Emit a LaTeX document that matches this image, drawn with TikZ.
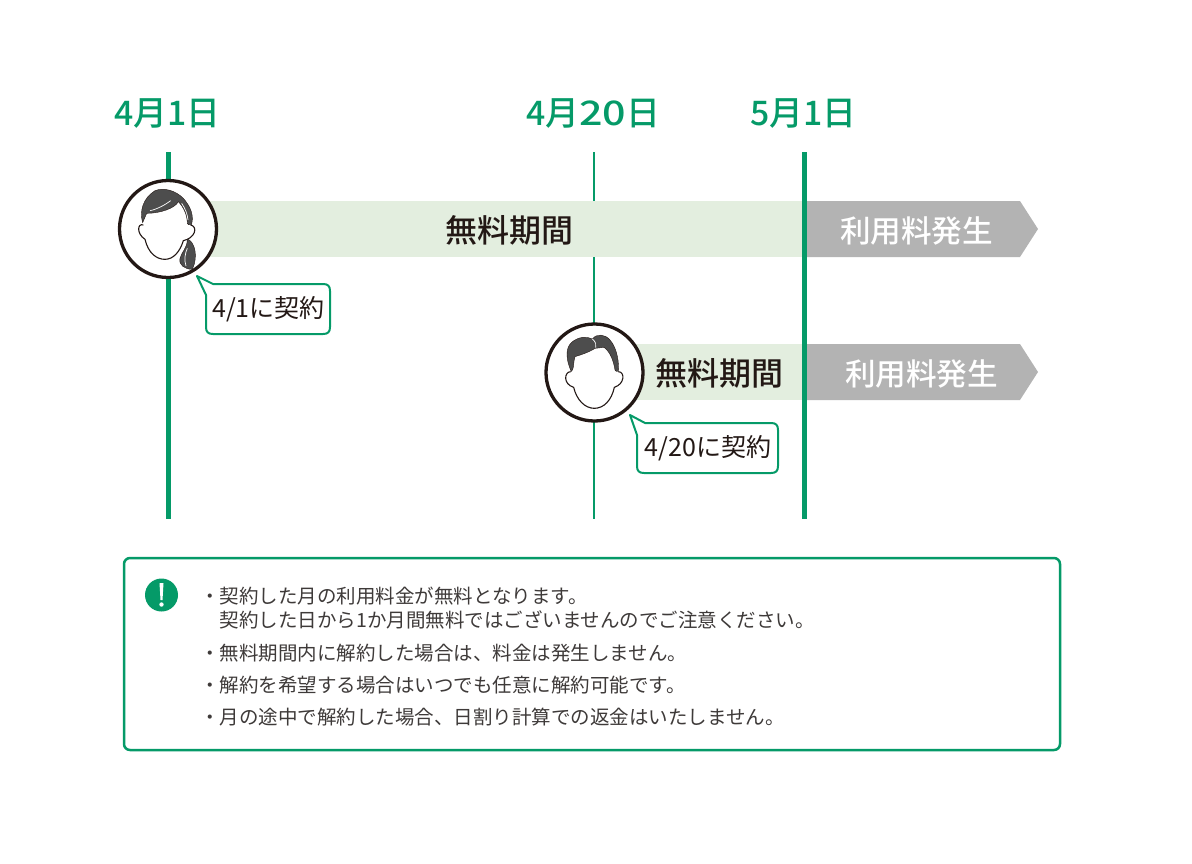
\documentclass[tikz,border=0pt]{standalone}
\usepackage{fontspec}
\setmainfont{Noto Sans CJK JP}
\newfontfamily\medfont{Noto Sans CJK JP Medium}
\usetikzlibrary{positioning}
\definecolor{grn}{HTML}{059A68}
\definecolor{lightgrn}{HTML}{E3EEDF}
\definecolor{bargray}{HTML}{B3B3B3}
\definecolor{hair}{HTML}{4D4D4D}
\definecolor{ink}{HTML}{231815}
\definecolor{noteink}{HTML}{3E3A39}
\newcommand{\pxfont}[1]{\fontsize{#1}{#1}\selectfont}
\tikzset{
	date/.style={text=grn, font=\pxfont{33.8}\medfont, inner sep=0pt},
	free/.style={text=ink, font=\pxfont{32}\medfont, inner sep=0pt},
	paid/.style={text=white, font=\pxfont{30.6}\medfont, inner sep=0pt},
	said/.style={text=ink, font=\pxfont{25}, inner sep=0pt},
	note/.style={text=noteink, font=\pxfont{19.5}, inner sep=0pt, anchor=west},
	person/.style={circle, draw=ink, line width=3.3pt, fill=white, minimum size=97pt, inner sep=0pt},
	face/.style={draw=ink, line width=1.1pt, fill=white},
	hairdo/.style={fill=hair, draw=ink, line width=.4pt},
	strand/.style={draw=white, line width=.7pt},
	bubble/.style={draw=grn, line width=2pt, fill=white, line join=round}
}
\begin{document}
\begin{tikzpicture}[x=1pt, y=-1pt]
	\useasboundingbox (0,0) rectangle (1192,863);
	\coordinate (t1) at (168,152);
	\coordinate (b1) at (168,519);
	\coordinate (t2) at (594,152);
	\coordinate (b2) at (594,519);
	\coordinate (t3) at (804,152);
	\coordinate (b3) at (804,519);

	\node (d1) [date] at (167.5,114) {4月1日};
	\node (d2) [date] at (593,114) {4月\scalebox{1.22}[1]{20}日};
	\node (d3) [date] at (803.5,114) {5月1日};

	\draw [grn, line width=2.8pt] (t2) -- (b2);
	\draw [grn, line width=5pt] (t1) -- (b1);

	\fill [lightgrn] (190,201) rectangle (804,257);
	\fill [lightgrn] (620,344) rectangle (804,400);
	\fill [bargray] (807,201) -- (1020,201) -- (1038,229) -- (1020,257) -- (807,257) -- cycle;
	\fill [bargray] (807,344) -- (1020,344) -- (1038,372) -- (1020,400) -- (807,400) -- cycle;
	\draw [grn, line width=5pt] (t3) -- (b3);

	\node (f1) [free] at (509,230) {無料期間};
	\node (f2) [free] at (719,373) {無料期間};
	\node (p1) [paid] at (916.5,231) {利用料発生};
	\node (p2) [paid] at (921.5,374) {利用料発生};

	\node (c1) [person] at (168,229) {};
	\node (c2) [person] at (594.5,372.5) {};

	% woman
	\begin{scope}[shift={(100,170)}, x=1/3*1pt, y=-1/3*1pt]
		\path [hairdo] (128,158) .. controls (118,125) and (128,85) .. (165,62) .. controls (190,52) and (225,60) .. (250,85) .. controls (272,110) and (285,140) .. (272,170) -- (262,160) .. controls (262,135) and (250,110) .. (235,95) .. controls (225,115) and (180,130) .. (140,130) -- cycle;
		\path [strand] (150,122) .. controls (170,118) and (195,105) .. (212,92);
		\path [strand] (245,100) .. controls (255,115) and (262,130) .. (264,150);
		\path [face] (130,165) .. controls (113,158) and (108,190) .. (135,208) .. controls (145,250) and (170,268) .. (195,268) .. controls (220,268) and (240,245) .. (250,212) .. controls (285,205) and (295,170) .. (272,165);
		\path [hairdo] (262,207) .. controls (285,215) and (295,260) .. (277,298) .. controls (255,298) and (235,285) .. (240,265) .. controls (245,245) and (262,235) .. (262,207) -- cycle;
		\path [strand] (262,235) .. controls (255,250) and (252,270) .. (258,288);
	\end{scope}
	% man
	\begin{scope}[shift={(530,310)}, x=1/3*1pt, y=-1/3*1pt]
		\path [hairdo] (124,185) .. controls (108,150) and (105,115) .. (125,97) .. controls (145,80) and (170,78) .. (187,87) .. controls (200,70) and (225,72) .. (240,90) .. controls (262,115) and (268,160) .. (265,190) -- (255,180) .. controls (250,150) and (240,125) .. (222,112) -- (195,115) .. controls (175,128) and (150,135) .. (135,140) .. controls (130,155) and (132,170) .. (128,178) -- cycle;
		\path [strand] (187,87) .. controls (197,95) and (200,105) .. (197,113);
		\path [face] (122,185) .. controls (103,185) and (98,222) .. (131,232) .. controls (140,270) and (165,295) .. (193,295) .. controls (222,295) and (245,270) .. (253,232) .. controls (285,222) and (285,185) .. (265,185);
	\end{scope}

	\path [bubble] (197,276) -- (213,284) -- (323,284) .. controls (328,284) and (330,286) .. (330,291) -- (330,327) .. controls (330,332) and (328,334) .. (323,334) -- (213,334) .. controls (208,334) and (206,332) .. (206,327) -- (206,295) -- cycle;
	\path [bubble] (630,415) -- (645,423) -- (771,423) .. controls (776,423) and (778,425) .. (778,430) -- (778,466) .. controls (778,471) and (776,473) .. (771,473) -- (644,473) .. controls (639,473) and (637,471) .. (637,466) -- (637,435) -- cycle;
	\node (s1) [said] at (268.5,309) {4/1に契約};
	\node (s2) [said] at (708,448) {4/20に契約};

	% notes
	\draw [grn, line width=2.5pt, fill=white, rounded corners=6pt] (124,558) rectangle (1060,750);
	\node (mark) [circle, fill=grn, minimum size=33pt, inner sep=0pt] at (161.5,595) {};
	\fill [white] (159.5,583) -- (163.5,583) -- (162.5,600) -- (160.5,600) -- cycle;
	\fill [white] (161.5,604.5) circle (2.2);
	\node (n1) [note] at (200,596) {・契約した月の利用料金が無料となります。};
	\node (n2) [note] at (219.5,620) {契約した日から1か月間無料ではございませんのでご注意ください。};
	\node (n3) [note] at (200,653) {・無料期間内に解約した場合は、料金は発生しません。};
	\node (n4) [note] at (200,685) {・解約を希望する場合はいつでも任意に解約可能です。};
	\node (n5) [note] at (200,717) {・月の途中で解約した場合、日割り計算での返金はいたしません。};
\end{tikzpicture}
\end{document}
